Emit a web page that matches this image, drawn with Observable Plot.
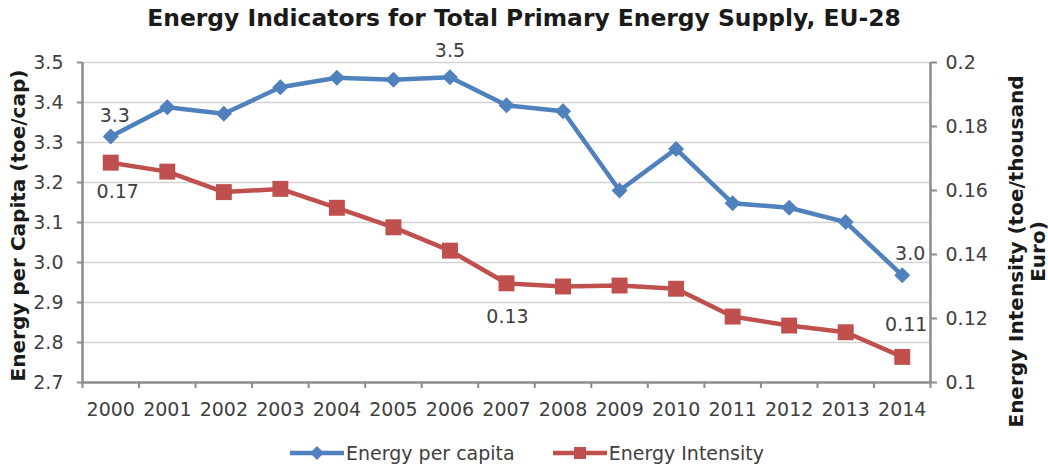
<!DOCTYPE html>
<html>
<head>
<meta charset="utf-8">
<script src="https://cdn.jsdelivr.net/npm/d3@7"></script>
<script src="https://cdn.jsdelivr.net/npm/@observablehq/plot@0.6"></script>
<style>
  body { margin: 0; background: #fff; width: 1048px; height: 466px; overflow: hidden; font-family: "DejaVu Sans", Verdana, sans-serif; }
  #title { height: 40px; line-height: 36px; text-align: center; font-weight: bold; font-size: 23.4px; color: #1a1a1a; }
  #chart { height: 382px; }
  #legend { display: flex; justify-content: center; align-items: center; gap: 38px; margin-top: 18px; height: 26px; font-size: 19px; color: #404040; padding-left: 6px; }
  .item { display: flex; align-items: center; gap: 2px; }
</style>
</head>
<body>
<div id="title">Energy Indicators for Total Primary Energy Supply, EU-28</div>
<div id="chart"></div>
<div id="legend"></div>
<script>
// ---- data ----
const years = [2000, 2001, 2002, 2003, 2004, 2005, 2006, 2007, 2008, 2009, 2010, 2011, 2012, 2013, 2014];
const energyPerCapita = [3.315, 3.388, 3.372, 3.438, 3.462, 3.457, 3.463, 3.393, 3.378, 3.180, 3.284, 3.148, 3.137, 3.101, 2.968];
const energyIntensity = [0.1687, 0.1659, 0.1595, 0.1605, 0.1546, 0.1485, 0.1412, 0.1310, 0.1300, 0.1303, 0.1293, 0.1206, 0.1178, 0.1157, 0.1080];
const leftTicks = [2.7, 2.8, 2.9, 3.0, 3.1, 3.2, 3.3, 3.4, 3.5];
const rightTicks = [0.1, 0.12, 0.14, 0.16, 0.18, 0.2];
const seriesNames = ["Energy per capita", "Energy Intensity"];
const seriesColors = ["#4F81BD", "#C0504D"];

// right axis (0.1..0.2) mapped onto left axis (2.7..3.5)
const leftMin = 2.7, leftMax = 3.5, rightMin = 0.1, rightMax = 0.2;
const k = (leftMax - leftMin) / (rightMax - rightMin);
const toLeft = r => leftMin + (r - rightMin) * k;
const fromLeft = v => rightMin + (v - leftMin) / k;

const capData = years.map((year, i) => ({year, value: energyPerCapita[i]}));
const intData = years.map((year, i) => ({year, value: energyIntensity[i], scaled: toLeft(energyIntensity[i])}));
const boundaries = [...years.map(y => y - 0.5), years[years.length - 1] + 0.5];

const diamond = {
  draw(ctx, size) {
    const h = Math.sqrt(size / 2);
    ctx.moveTo(0, -h); ctx.lineTo(h, 0); ctx.lineTo(0, h); ctx.lineTo(-h, 0); ctx.closePath();
  }
};

const axisColor = "#8c8c8c";
const textColor = "#404040";
const pick = (data, yrs) => data.filter(d => yrs.includes(d.year));

const chart = Plot.plot({
  width: 1048,
  height: 382,
  marginLeft: 82,
  marginRight: 118,
  marginTop: 22,
  marginBottom: 40,
  style: {fontFamily: "DejaVu Sans", fontSize: "19px", color: textColor, background: "#fff", overflow: "visible"},
  x: {type: "linear", domain: [years[0] - 0.5, years[years.length - 1] + 0.5]},
  y: {domain: [leftMin, leftMax]},
  marks: [
    Plot.gridY(leftTicks.slice(1), {stroke: "#d2d2d2", strokeOpacity: 1, strokeWidth: 1.4}),
    Plot.axisY(leftTicks, {anchor: "left", tickSize: 5, tickPadding: 14, stroke: axisColor, strokeWidth: 2, fill: textColor, tickFormat: d3.format(".1f"), label: null}),
    Plot.axisY(rightTicks.map(toLeft), {anchor: "right", tickSize: 6, tickPadding: 9, stroke: axisColor, strokeWidth: 2, fill: textColor, tickFormat: v => String(+fromLeft(v).toFixed(2)), label: null}),
    Plot.axisX(boundaries, {anchor: "bottom", tickSize: 6, tickFormat: () => "", stroke: axisColor, strokeWidth: 2, label: null}),
    Plot.axisX(years, {anchor: "bottom", tickSize: 0, tickPadding: 20, fill: textColor, tickFormat: d => String(d), label: null}),
    Plot.ruleX([boundaries[0], boundaries[boundaries.length - 1]], {stroke: axisColor, strokeWidth: 2.5}),
    Plot.ruleY([leftMin], {stroke: axisColor, strokeWidth: 2.5}),
    Plot.line(capData, {x: "year", y: "value", stroke: seriesColors[0], strokeWidth: 4.5}),
    Plot.line(intData, {x: "year", y: "scaled", stroke: seriesColors[1], strokeWidth: 4.5}),
    Plot.dot(capData, {x: "year", y: "value", symbol: diamond, r: 6.4, fill: seriesColors[0], stroke: null}),
    Plot.dot(intData, {x: "year", y: "scaled", symbol: "square", r: 9, fill: seriesColors[1], stroke: null}),
    // data labels
    Plot.text(pick(capData, [2000]), {x: "year", y: "value", text: d => d.value.toFixed(1), dx: 4, dy: -21, fill: textColor}),
    Plot.text(pick(capData, [2006]), {x: "year", y: "value", text: d => d.value.toFixed(1), dx: 0, dy: -26, fill: textColor}),
    Plot.text(pick(capData, [2014]), {x: "year", y: "value", text: d => d.value.toFixed(1), dx: 8, dy: -21, fill: textColor}),
    Plot.text(pick(intData, [2000]), {x: "year", y: "scaled", text: d => d.value.toFixed(2), dx: 7, dy: 29, fill: textColor}),
    Plot.text(pick(intData, [2007]), {x: "year", y: "scaled", text: d => d.value.toFixed(2), dx: 1, dy: 34, fill: textColor}),
    Plot.text(pick(intData, [2014]), {x: "year", y: "scaled", text: d => d.value.toFixed(2), dx: 4, dy: -32, fill: textColor}),
    // axis titles
    Plot.text(["Energy per Capita (toe/cap)"], {frameAnchor: "left", textAnchor: "middle", rotate: -90, dx: -64, dy: 3, fontWeight: "bold", fontSize: 20, fill: "#1a1a1a"}),
    Plot.text(["Energy Intensity (toe/thousand\nEuro)"], {frameAnchor: "right", textAnchor: "middle", rotate: -90, dx: 96, dy: 29, lineHeight: 1.1, fontWeight: "bold", fontSize: 20, fill: "#1a1a1a"})
  ]
});
document.getElementById("chart").append(chart);

// legend
const legend = document.getElementById("legend");
seriesNames.forEach((name, i) => {
  const item = document.createElement("div");
  item.className = "item";
  const sym = i === 0
    ? `<path d="M27,6 L34,13 L27,20 L20,13 Z" fill="${seriesColors[i]}"/>`
    : `<rect x="21" y="7" width="12" height="12" fill="${seriesColors[i]}"/>`;
  item.innerHTML = `<svg width="54" height="26"><line x1="0" y1="13" x2="54" y2="13" stroke="${seriesColors[i]}" stroke-width="4.5"/>${sym}</svg><span>${name}</span>`;
  legend.append(item);
});
</script>
</body>
</html>
